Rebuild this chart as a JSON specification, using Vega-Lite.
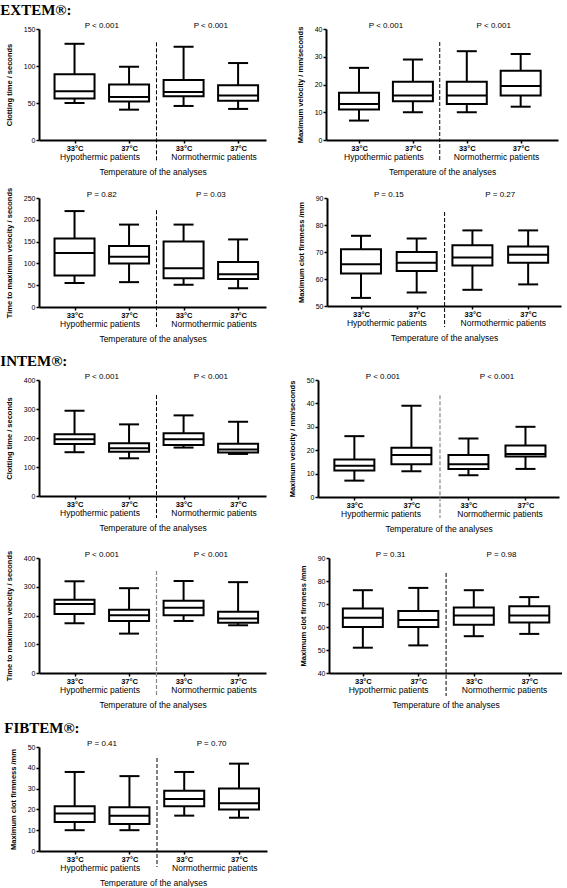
{
"$schema": "https://vega.github.io/schema/vega-lite/v6.json",
"autosize": {"type": "pad"},
"padding": {"left": 0, "top": 3, "right": 0, "bottom": 0},
"background": "white",
"datasets": {
"sep": [{"pos": 2.5}],
"p1": [
{"pos": 1, "temperature": "33°C", "group": "Hypothermic patients", "min": 50, "q1": 56, "median": 66, "q3": 89, "max": 130},
{"pos": 2, "temperature": "37°C", "group": "Hypothermic patients", "min": 41, "q1": 52, "median": 58, "q3": 75, "max": 99},
{"pos": 3, "temperature": "33°C", "group": "Normothermic patients", "min": 46, "q1": 59, "median": 65, "q3": 81, "max": 126},
{"pos": 4, "temperature": "37°C", "group": "Normothermic patients", "min": 42, "q1": 53, "median": 60, "q3": 74, "max": 104}],
"p1p": [{"pos": 1.5, "label": "P < 0.001"}, {"pos": 3.5, "label": "P < 0.001"}],
"p2": [
{"pos": 1, "temperature": "33°C", "group": "Hypothermic patients", "min": 7, "q1": 11, "median": 13, "q3": 17, "max": 26},
{"pos": 2, "temperature": "37°C", "group": "Hypothermic patients", "min": 10, "q1": 14, "median": 16, "q3": 21, "max": 29},
{"pos": 3, "temperature": "33°C", "group": "Normothermic patients", "min": 10, "q1": 13, "median": 16, "q3": 21, "max": 32},
{"pos": 4, "temperature": "37°C", "group": "Normothermic patients", "min": 12, "q1": 16, "median": 19.5, "q3": 25, "max": 31}],
"p2p": [{"pos": 1.5, "label": "P < 0.001"}, {"pos": 3.5, "label": "P < 0.001"}],
"p3": [
{"pos": 1, "temperature": "33°C", "group": "Hypothermic patients", "min": 55, "q1": 72, "median": 124, "q3": 157, "max": 220},
{"pos": 2, "temperature": "37°C", "group": "Hypothermic patients", "min": 57, "q1": 100, "median": 115, "q3": 140, "max": 189},
{"pos": 3, "temperature": "33°C", "group": "Normothermic patients", "min": 51, "q1": 66, "median": 89, "q3": 150, "max": 189},
{"pos": 4, "temperature": "37°C", "group": "Normothermic patients", "min": 43, "q1": 64, "median": 75, "q3": 103, "max": 155}],
"p3p": [{"pos": 1.5, "label": "P = 0.82"}, {"pos": 3.5, "label": "P = 0.03"}],
"p4": [
{"pos": 1, "temperature": "33°C", "group": "Hypothermic patients", "min": 53, "q1": 62, "median": 65.5, "q3": 71, "max": 76},
{"pos": 2, "temperature": "37°C", "group": "Hypothermic patients", "min": 55, "q1": 63, "median": 66, "q3": 70, "max": 75},
{"pos": 3, "temperature": "33°C", "group": "Normothermic patients", "min": 56, "q1": 65, "median": 68, "q3": 72.5, "max": 78},
{"pos": 4, "temperature": "37°C", "group": "Normothermic patients", "min": 58, "q1": 66, "median": 69, "q3": 72, "max": 78}],
"p4p": [{"pos": 1.5, "label": "P = 0.15"}, {"pos": 3.5, "label": "P = 0.27"}],
"p5": [
{"pos": 1, "temperature": "33°C", "group": "Hypothermic patients", "min": 151, "q1": 179, "median": 196, "q3": 213, "max": 294},
{"pos": 2, "temperature": "37°C", "group": "Hypothermic patients", "min": 130, "q1": 153, "median": 165, "q3": 182, "max": 247},
{"pos": 3, "temperature": "33°C", "group": "Normothermic patients", "min": 167, "q1": 176, "median": 196, "q3": 216, "max": 278},
{"pos": 4, "temperature": "37°C", "group": "Normothermic patients", "min": 145, "q1": 150, "median": 160, "q3": 180, "max": 256}],
"p5p": [{"pos": 1.5, "label": "P < 0.001"}, {"pos": 3.5, "label": "P < 0.001"}],
"p6": [
{"pos": 1, "temperature": "33°C", "group": "Hypothermic patients", "min": 7, "q1": 11.3, "median": 13.4, "q3": 16, "max": 26},
{"pos": 2, "temperature": "37°C", "group": "Hypothermic patients", "min": 11, "q1": 14, "median": 18, "q3": 21, "max": 39},
{"pos": 3, "temperature": "33°C", "group": "Normothermic patients", "min": 9.3, "q1": 12, "median": 14, "q3": 18, "max": 25},
{"pos": 4, "temperature": "37°C", "group": "Normothermic patients", "min": 12, "q1": 17.3, "median": 18.4, "q3": 22, "max": 30}],
"p6p": [{"pos": 1.5, "label": "P < 0.001"}, {"pos": 3.5, "label": "P < 0.001"}],
"p7": [
{"pos": 1, "temperature": "33°C", "group": "Hypothermic patients", "min": 173, "q1": 205, "median": 240, "q3": 255, "max": 319},
{"pos": 2, "temperature": "37°C", "group": "Hypothermic patients", "min": 137, "q1": 181, "median": 201, "q3": 220, "max": 295},
{"pos": 3, "temperature": "33°C", "group": "Normothermic patients", "min": 181, "q1": 201, "median": 227, "q3": 251, "max": 320},
{"pos": 4, "temperature": "37°C", "group": "Normothermic patients", "min": 166, "q1": 175, "median": 190, "q3": 213, "max": 316}],
"p7p": [{"pos": 1.5, "label": "P < 0.001"}, {"pos": 3.5, "label": "P < 0.001"}],
"p8": [
{"pos": 1, "temperature": "33°C", "group": "Hypothermic patients", "min": 51, "q1": 60, "median": 64, "q3": 68, "max": 76},
{"pos": 2, "temperature": "37°C", "group": "Hypothermic patients", "min": 52, "q1": 60, "median": 63, "q3": 67, "max": 77},
{"pos": 3, "temperature": "33°C", "group": "Normothermic patients", "min": 56, "q1": 61, "median": 65, "q3": 68.5, "max": 76},
{"pos": 4, "temperature": "37°C", "group": "Normothermic patients", "min": 57, "q1": 62, "median": 65, "q3": 69, "max": 73}],
"p8p": [{"pos": 1.5, "label": "P = 0.31"}, {"pos": 3.5, "label": "P = 0.98"}],
"p9": [
{"pos": 1, "temperature": "33°C", "group": "Hypothermic patients", "min": 10, "q1": 14, "median": 18, "q3": 21.5, "max": 38},
{"pos": 2, "temperature": "37°C", "group": "Hypothermic patients", "min": 10, "q1": 13, "median": 17, "q3": 21, "max": 36},
{"pos": 3, "temperature": "33°C", "group": "Normothermic patients", "min": 17, "q1": 21.5, "median": 25, "q3": 29, "max": 38},
{"pos": 4, "temperature": "37°C", "group": "Normothermic patients", "min": 16, "q1": 20, "median": 23, "q3": 30, "max": 42}],
"p9p": [{"pos": 1.5, "label": "P = 0.41"}, {"pos": 3.5, "label": "P = 0.70"}]
},
"spacing": 11,
"vconcat": [
{"spacing": 11, "vconcat": [
{"title": {"text": "EXTEM®:", "anchor": "start", "frame": "bounds", "dx": -5, "offset": 4}, "spacing": 30, "hconcat": [
{"width": 227, "height": 111, "layer": [
{"encoding": {"x": {"field": "pos", "type": "quantitative", "scale": {"domain": [0.44, 4.42], "nice": false, "zero": false}, "axis": {"values": [1, 2, 3, 4], "labelExpr": "datum.value % 2 == 1 ? '33°C' : '37°C'", "title": null}}},
"layer": [
{"data": {"name": "p1"}, "mark": {"type": "rule", "color": "black", "strokeWidth": 2}, "encoding": {"y": {"field": "min", "type": "quantitative", "scale": {"domain": [0, 150], "nice": false, "zero": false}, "axis": {"title": "Clotting time / seconds", "values": [0, 50, 100, 150]}}, "y2": {"field": "max"}}},
{"data": {"name": "p1"}, "mark": {"type": "bar", "size": 40, "fill": "white", "stroke": "black", "strokeWidth": 2}, "encoding": {"y": {"field": "q1", "type": "quantitative", "scale": {"domain": [0, 150], "nice": false, "zero": false}, "axis": {"title": "Clotting time / seconds", "values": [0, 50, 100, 150]}}, "y2": {"field": "q3"}}},
{"data": {"name": "p1"}, "mark": {"type": "tick", "orient": "horizontal", "size": 40, "thickness": 2, "color": "black", "opacity": 1}, "encoding": {"y": {"field": "median", "type": "quantitative", "scale": {"domain": [0, 150], "nice": false, "zero": false}, "axis": {"title": "Clotting time / seconds", "values": [0, 50, 100, 150]}}}},
{"data": {"name": "p1"}, "mark": {"type": "tick", "orient": "horizontal", "size": 20, "thickness": 2, "color": "black", "opacity": 1}, "encoding": {"y": {"field": "min", "type": "quantitative", "scale": {"domain": [0, 150], "nice": false, "zero": false}, "axis": {"title": "Clotting time / seconds", "values": [0, 50, 100, 150]}}}},
{"data": {"name": "p1"}, "mark": {"type": "tick", "orient": "horizontal", "size": 20, "thickness": 2, "color": "black", "opacity": 1}, "encoding": {"y": {"field": "max", "type": "quantitative", "scale": {"domain": [0, 150], "nice": false, "zero": false}, "axis": {"title": "Clotting time / seconds", "values": [0, 50, 100, 150]}}}},
{"data": {"name": "p1p"}, "mark": {"type": "text", "baseline": "bottom", "dy": 1, "fontSize": 8, "color": "black"}, "encoding": {"y": {"datum": 150, "type": "quantitative", "scale": {"domain": [0, 150], "nice": false, "zero": false}, "axis": {"title": "Clotting time / seconds", "values": [0, 50, 100, 150]}}, "text": {"field": "label"}}}
]},
{"data": {"name": "sep"}, "mark": {"type": "rule", "color": "black", "strokeWidth": 1, "strokeDash": [4, 2]}, "encoding": {"x": {"field": "pos", "type": "quantitative", "scale": {"domain": [0.44, 4.42], "nice": false, "zero": false}, "axis": {"orient": "bottom", "values": [1.5, 3.5], "labelExpr": "datum.value < 2.5 ? 'Hypothermic patients' : 'Normothermic patients'", "domain": false, "ticks": false, "offset": 12, "labelPadding": 0, "labelFontSize": 8.5, "labelFontWeight": "normal", "title": "Temperature of the analyses", "titleFontSize": 8.5, "titleFontWeight": "normal", "titlePadding": 7}}, "y": {"datum": 132, "type": "quantitative", "scale": {"domain": [0, 150], "nice": false, "zero": false}, "axis": {"title": "Clotting time / seconds", "values": [0, 50, 100, 150]}}, "y2": {"datum": -28}}}
], "resolve": {"scale": {"x": "independent"}}},
{"width": 232, "height": 111, "layer": [
{"encoding": {"x": {"field": "pos", "type": "quantitative", "scale": {"domain": [0.48, 4.6], "nice": false, "zero": false}, "axis": {"values": [1, 2, 3, 4], "labelExpr": "datum.value % 2 == 1 ? '33°C' : '37°C'", "title": null}}},
"layer": [
{"data": {"name": "p2"}, "mark": {"type": "rule", "color": "black", "strokeWidth": 2}, "encoding": {"y": {"field": "min", "type": "quantitative", "scale": {"domain": [0, 40], "nice": false, "zero": false}, "axis": {"title": "Maximum velocity / mm/seconds", "values": [0, 10, 20, 30, 40]}}, "y2": {"field": "max"}}},
{"data": {"name": "p2"}, "mark": {"type": "bar", "size": 40, "fill": "white", "stroke": "black", "strokeWidth": 2}, "encoding": {"y": {"field": "q1", "type": "quantitative", "scale": {"domain": [0, 40], "nice": false, "zero": false}, "axis": {"title": "Maximum velocity / mm/seconds", "values": [0, 10, 20, 30, 40]}}, "y2": {"field": "q3"}}},
{"data": {"name": "p2"}, "mark": {"type": "tick", "orient": "horizontal", "size": 40, "thickness": 2, "color": "black", "opacity": 1}, "encoding": {"y": {"field": "median", "type": "quantitative", "scale": {"domain": [0, 40], "nice": false, "zero": false}, "axis": {"title": "Maximum velocity / mm/seconds", "values": [0, 10, 20, 30, 40]}}}},
{"data": {"name": "p2"}, "mark": {"type": "tick", "orient": "horizontal", "size": 20, "thickness": 2, "color": "black", "opacity": 1}, "encoding": {"y": {"field": "min", "type": "quantitative", "scale": {"domain": [0, 40], "nice": false, "zero": false}, "axis": {"title": "Maximum velocity / mm/seconds", "values": [0, 10, 20, 30, 40]}}}},
{"data": {"name": "p2"}, "mark": {"type": "tick", "orient": "horizontal", "size": 20, "thickness": 2, "color": "black", "opacity": 1}, "encoding": {"y": {"field": "max", "type": "quantitative", "scale": {"domain": [0, 40], "nice": false, "zero": false}, "axis": {"title": "Maximum velocity / mm/seconds", "values": [0, 10, 20, 30, 40]}}}},
{"data": {"name": "p2p"}, "mark": {"type": "text", "baseline": "bottom", "dy": 1, "fontSize": 8, "color": "black"}, "encoding": {"y": {"datum": 40, "type": "quantitative", "scale": {"domain": [0, 40], "nice": false, "zero": false}, "axis": {"title": "Maximum velocity / mm/seconds", "values": [0, 10, 20, 30, 40]}}, "text": {"field": "label"}}}
]},
{"data": {"name": "sep"}, "mark": {"type": "rule", "color": "black", "strokeWidth": 1, "strokeDash": [4, 2]}, "encoding": {"x": {"field": "pos", "type": "quantitative", "scale": {"domain": [0.48, 4.6], "nice": false, "zero": false}, "axis": {"orient": "bottom", "values": [1.5, 3.5], "labelExpr": "datum.value < 2.5 ? 'Hypothermic patients' : 'Normothermic patients'", "domain": false, "ticks": false, "offset": 12, "labelPadding": 0, "labelFontSize": 8.5, "labelFontWeight": "normal", "title": "Temperature of the analyses", "titleFontSize": 8.5, "titleFontWeight": "normal", "titlePadding": 7}}, "y": {"datum": 35.3, "type": "quantitative", "scale": {"domain": [0, 40], "nice": false, "zero": false}, "axis": {"title": "Maximum velocity / mm/seconds", "values": [0, 10, 20, 30, 40]}}, "y2": {"datum": -7.6}}}
], "resolve": {"scale": {"x": "independent"}}}
]},
{"spacing": 31, "hconcat": [
{"width": 227, "height": 109, "layer": [
{"encoding": {"x": {"field": "pos", "type": "quantitative", "scale": {"domain": [0.44, 4.42], "nice": false, "zero": false}, "axis": {"values": [1, 2, 3, 4], "labelExpr": "datum.value % 2 == 1 ? '33°C' : '37°C'", "title": null}}},
"layer": [
{"data": {"name": "p3"}, "mark": {"type": "rule", "color": "black", "strokeWidth": 2}, "encoding": {"y": {"field": "min", "type": "quantitative", "scale": {"domain": [0, 250], "nice": false, "zero": false}, "axis": {"title": "Time to maximum velocity / seconds", "values": [0, 50, 100, 150, 200, 250]}}, "y2": {"field": "max"}}},
{"data": {"name": "p3"}, "mark": {"type": "bar", "size": 40, "fill": "white", "stroke": "black", "strokeWidth": 2}, "encoding": {"y": {"field": "q1", "type": "quantitative", "scale": {"domain": [0, 250], "nice": false, "zero": false}, "axis": {"title": "Time to maximum velocity / seconds", "values": [0, 50, 100, 150, 200, 250]}}, "y2": {"field": "q3"}}},
{"data": {"name": "p3"}, "mark": {"type": "tick", "orient": "horizontal", "size": 40, "thickness": 2, "color": "black", "opacity": 1}, "encoding": {"y": {"field": "median", "type": "quantitative", "scale": {"domain": [0, 250], "nice": false, "zero": false}, "axis": {"title": "Time to maximum velocity / seconds", "values": [0, 50, 100, 150, 200, 250]}}}},
{"data": {"name": "p3"}, "mark": {"type": "tick", "orient": "horizontal", "size": 20, "thickness": 2, "color": "black", "opacity": 1}, "encoding": {"y": {"field": "min", "type": "quantitative", "scale": {"domain": [0, 250], "nice": false, "zero": false}, "axis": {"title": "Time to maximum velocity / seconds", "values": [0, 50, 100, 150, 200, 250]}}}},
{"data": {"name": "p3"}, "mark": {"type": "tick", "orient": "horizontal", "size": 20, "thickness": 2, "color": "black", "opacity": 1}, "encoding": {"y": {"field": "max", "type": "quantitative", "scale": {"domain": [0, 250], "nice": false, "zero": false}, "axis": {"title": "Time to maximum velocity / seconds", "values": [0, 50, 100, 150, 200, 250]}}}},
{"data": {"name": "p3p"}, "mark": {"type": "text", "baseline": "bottom", "dy": 1, "fontSize": 8, "color": "black"}, "encoding": {"y": {"datum": 250, "type": "quantitative", "scale": {"domain": [0, 250], "nice": false, "zero": false}, "axis": {"title": "Time to maximum velocity / seconds", "values": [0, 50, 100, 150, 200, 250]}}, "text": {"field": "label"}}}
]},
{"data": {"name": "sep"}, "mark": {"type": "rule", "color": "black", "strokeWidth": 1, "strokeDash": [4, 2]}, "encoding": {"x": {"field": "pos", "type": "quantitative", "scale": {"domain": [0.44, 4.42], "nice": false, "zero": false}, "axis": {"orient": "bottom", "values": [1.5, 3.5], "labelExpr": "datum.value < 2.5 ? 'Hypothermic patients' : 'Normothermic patients'", "domain": false, "ticks": false, "offset": 12, "labelPadding": 0, "labelFontSize": 8.5, "labelFontWeight": "normal", "title": "Temperature of the analyses", "titleFontSize": 8.5, "titleFontWeight": "normal", "titlePadding": 7}}, "y": {"datum": 222, "type": "quantitative", "scale": {"domain": [0, 250], "nice": false, "zero": false}, "axis": {"title": "Time to maximum velocity / seconds", "values": [0, 50, 100, 150, 200, 250]}}, "y2": {"datum": -46}}}
], "resolve": {"scale": {"x": "independent"}}},
{"width": 234, "height": 108, "layer": [
{"encoding": {"x": {"field": "pos", "type": "quantitative", "scale": {"domain": [0.48, 4.5], "nice": false, "zero": false}, "axis": {"values": [1, 2, 3, 4], "labelExpr": "datum.value % 2 == 1 ? '33°C' : '37°C'", "title": null}}},
"layer": [
{"data": {"name": "p4"}, "mark": {"type": "rule", "color": "black", "strokeWidth": 2}, "encoding": {"y": {"field": "min", "type": "quantitative", "scale": {"domain": [50, 90], "nice": false, "zero": false}, "axis": {"title": "Maximum clot firmness /mm", "values": [50, 60, 70, 80, 90]}}, "y2": {"field": "max"}}},
{"data": {"name": "p4"}, "mark": {"type": "bar", "size": 40, "fill": "white", "stroke": "black", "strokeWidth": 2}, "encoding": {"y": {"field": "q1", "type": "quantitative", "scale": {"domain": [50, 90], "nice": false, "zero": false}, "axis": {"title": "Maximum clot firmness /mm", "values": [50, 60, 70, 80, 90]}}, "y2": {"field": "q3"}}},
{"data": {"name": "p4"}, "mark": {"type": "tick", "orient": "horizontal", "size": 40, "thickness": 2, "color": "black", "opacity": 1}, "encoding": {"y": {"field": "median", "type": "quantitative", "scale": {"domain": [50, 90], "nice": false, "zero": false}, "axis": {"title": "Maximum clot firmness /mm", "values": [50, 60, 70, 80, 90]}}}},
{"data": {"name": "p4"}, "mark": {"type": "tick", "orient": "horizontal", "size": 20, "thickness": 2, "color": "black", "opacity": 1}, "encoding": {"y": {"field": "min", "type": "quantitative", "scale": {"domain": [50, 90], "nice": false, "zero": false}, "axis": {"title": "Maximum clot firmness /mm", "values": [50, 60, 70, 80, 90]}}}},
{"data": {"name": "p4"}, "mark": {"type": "tick", "orient": "horizontal", "size": 20, "thickness": 2, "color": "black", "opacity": 1}, "encoding": {"y": {"field": "max", "type": "quantitative", "scale": {"domain": [50, 90], "nice": false, "zero": false}, "axis": {"title": "Maximum clot firmness /mm", "values": [50, 60, 70, 80, 90]}}}},
{"data": {"name": "p4p"}, "mark": {"type": "text", "baseline": "bottom", "dy": 1, "fontSize": 8, "color": "black"}, "encoding": {"y": {"datum": 90, "type": "quantitative", "scale": {"domain": [50, 90], "nice": false, "zero": false}, "axis": {"title": "Maximum clot firmness /mm", "values": [50, 60, 70, 80, 90]}}, "text": {"field": "label"}}}
]},
{"data": {"name": "sep"}, "mark": {"type": "rule", "color": "black", "strokeWidth": 1, "strokeDash": [4, 2]}, "encoding": {"x": {"field": "pos", "type": "quantitative", "scale": {"domain": [0.48, 4.5], "nice": false, "zero": false}, "axis": {"orient": "bottom", "values": [1.5, 3.5], "labelExpr": "datum.value < 2.5 ? 'Hypothermic patients' : 'Normothermic patients'", "domain": false, "ticks": false, "offset": 12, "labelPadding": 0, "labelFontSize": 8.5, "labelFontWeight": "normal", "title": "Temperature of the analyses", "titleFontSize": 8.5, "titleFontWeight": "normal", "titlePadding": 7}}, "y": {"datum": 84.8, "type": "quantitative", "scale": {"domain": [50, 90], "nice": false, "zero": false}, "axis": {"title": "Maximum clot firmness /mm", "values": [50, 60, 70, 80, 90]}}, "y2": {"datum": 42.2}}}
], "resolve": {"scale": {"x": "independent"}}}
]}
]},
{"spacing": 12, "vconcat": [
{"spacing": 17, "vconcat": [
{"title": {"text": "INTEM®:", "anchor": "start", "frame": "bounds", "dx": -5, "offset": 4}, "spacing": 22, "hconcat": [
{"width": 227, "height": 116, "layer": [
{"encoding": {"x": {"field": "pos", "type": "quantitative", "scale": {"domain": [0.44, 4.42], "nice": false, "zero": false}, "axis": {"values": [1, 2, 3, 4], "labelExpr": "datum.value % 2 == 1 ? '33°C' : '37°C'", "title": null}}},
"layer": [
{"data": {"name": "p5"}, "mark": {"type": "rule", "color": "black", "strokeWidth": 2}, "encoding": {"y": {"field": "min", "type": "quantitative", "scale": {"domain": [0, 400], "nice": false, "zero": false}, "axis": {"title": "Clotting time / seconds", "values": [0, 100, 200, 300, 400]}}, "y2": {"field": "max"}}},
{"data": {"name": "p5"}, "mark": {"type": "bar", "size": 40, "fill": "white", "stroke": "black", "strokeWidth": 2}, "encoding": {"y": {"field": "q1", "type": "quantitative", "scale": {"domain": [0, 400], "nice": false, "zero": false}, "axis": {"title": "Clotting time / seconds", "values": [0, 100, 200, 300, 400]}}, "y2": {"field": "q3"}}},
{"data": {"name": "p5"}, "mark": {"type": "tick", "orient": "horizontal", "size": 40, "thickness": 2, "color": "black", "opacity": 1}, "encoding": {"y": {"field": "median", "type": "quantitative", "scale": {"domain": [0, 400], "nice": false, "zero": false}, "axis": {"title": "Clotting time / seconds", "values": [0, 100, 200, 300, 400]}}}},
{"data": {"name": "p5"}, "mark": {"type": "tick", "orient": "horizontal", "size": 20, "thickness": 2, "color": "black", "opacity": 1}, "encoding": {"y": {"field": "min", "type": "quantitative", "scale": {"domain": [0, 400], "nice": false, "zero": false}, "axis": {"title": "Clotting time / seconds", "values": [0, 100, 200, 300, 400]}}}},
{"data": {"name": "p5"}, "mark": {"type": "tick", "orient": "horizontal", "size": 20, "thickness": 2, "color": "black", "opacity": 1}, "encoding": {"y": {"field": "max", "type": "quantitative", "scale": {"domain": [0, 400], "nice": false, "zero": false}, "axis": {"title": "Clotting time / seconds", "values": [0, 100, 200, 300, 400]}}}},
{"data": {"name": "p5p"}, "mark": {"type": "text", "baseline": "bottom", "dy": 1, "fontSize": 8, "color": "black"}, "encoding": {"y": {"datum": 400, "type": "quantitative", "scale": {"domain": [0, 400], "nice": false, "zero": false}, "axis": {"title": "Clotting time / seconds", "values": [0, 100, 200, 300, 400]}}, "text": {"field": "label"}}}
]},
{"data": {"name": "sep"}, "mark": {"type": "rule", "color": "black", "strokeWidth": 1, "strokeDash": [4, 2]}, "encoding": {"x": {"field": "pos", "type": "quantitative", "scale": {"domain": [0.44, 4.42], "nice": false, "zero": false}, "axis": {"orient": "bottom", "values": [1.5, 3.5], "labelExpr": "datum.value < 2.5 ? 'Hypothermic patients' : 'Normothermic patients'", "domain": false, "ticks": false, "offset": 12, "labelPadding": 0, "labelFontSize": 8.5, "labelFontWeight": "normal", "title": "Temperature of the analyses", "titleFontSize": 8.5, "titleFontWeight": "normal", "titlePadding": 7}}, "y": {"datum": 348, "type": "quantitative", "scale": {"domain": [0, 400], "nice": false, "zero": false}, "axis": {"title": "Clotting time / seconds", "values": [0, 100, 200, 300, 400]}}, "y2": {"datum": -76}}}
], "resolve": {"scale": {"x": "independent"}}},
{"width": 241, "height": 117, "layer": [
{"encoding": {"x": {"field": "pos", "type": "quantitative", "scale": {"domain": [0.45, 4.5], "nice": false, "zero": false}, "axis": {"values": [1, 2, 3, 4], "labelExpr": "datum.value % 2 == 1 ? '33°C' : '37°C'", "title": null}}},
"layer": [
{"data": {"name": "p6"}, "mark": {"type": "rule", "color": "black", "strokeWidth": 2}, "encoding": {"y": {"field": "min", "type": "quantitative", "scale": {"domain": [0, 50], "nice": false, "zero": false}, "axis": {"title": "Maximum velocity / mm/seconds", "values": [0, 10, 20, 30, 40, 50]}}, "y2": {"field": "max"}}},
{"data": {"name": "p6"}, "mark": {"type": "bar", "size": 40, "fill": "white", "stroke": "black", "strokeWidth": 2}, "encoding": {"y": {"field": "q1", "type": "quantitative", "scale": {"domain": [0, 50], "nice": false, "zero": false}, "axis": {"title": "Maximum velocity / mm/seconds", "values": [0, 10, 20, 30, 40, 50]}}, "y2": {"field": "q3"}}},
{"data": {"name": "p6"}, "mark": {"type": "tick", "orient": "horizontal", "size": 40, "thickness": 2, "color": "black", "opacity": 1}, "encoding": {"y": {"field": "median", "type": "quantitative", "scale": {"domain": [0, 50], "nice": false, "zero": false}, "axis": {"title": "Maximum velocity / mm/seconds", "values": [0, 10, 20, 30, 40, 50]}}}},
{"data": {"name": "p6"}, "mark": {"type": "tick", "orient": "horizontal", "size": 20, "thickness": 2, "color": "black", "opacity": 1}, "encoding": {"y": {"field": "min", "type": "quantitative", "scale": {"domain": [0, 50], "nice": false, "zero": false}, "axis": {"title": "Maximum velocity / mm/seconds", "values": [0, 10, 20, 30, 40, 50]}}}},
{"data": {"name": "p6"}, "mark": {"type": "tick", "orient": "horizontal", "size": 20, "thickness": 2, "color": "black", "opacity": 1}, "encoding": {"y": {"field": "max", "type": "quantitative", "scale": {"domain": [0, 50], "nice": false, "zero": false}, "axis": {"title": "Maximum velocity / mm/seconds", "values": [0, 10, 20, 30, 40, 50]}}}},
{"data": {"name": "p6p"}, "mark": {"type": "text", "baseline": "bottom", "dy": 1, "fontSize": 8, "color": "black"}, "encoding": {"y": {"datum": 50, "type": "quantitative", "scale": {"domain": [0, 50], "nice": false, "zero": false}, "axis": {"title": "Maximum velocity / mm/seconds", "values": [0, 10, 20, 30, 40, 50]}}, "text": {"field": "label"}}}
]},
{"data": {"name": "sep"}, "mark": {"type": "rule", "color": "#888888", "strokeWidth": 1.2, "strokeDash": [4, 2]}, "encoding": {"x": {"field": "pos", "type": "quantitative", "scale": {"domain": [0.45, 4.5], "nice": false, "zero": false}, "axis": {"orient": "bottom", "values": [1.5, 3.5], "labelExpr": "datum.value < 2.5 ? 'Hypothermic patients' : 'Normothermic patients'", "domain": false, "ticks": false, "offset": 12, "labelPadding": 0, "labelFontSize": 8.5, "labelFontWeight": "normal", "title": "Temperature of the analyses", "titleFontSize": 8.5, "titleFontWeight": "normal", "titlePadding": 7}}, "y": {"datum": 43.5, "type": "quantitative", "scale": {"domain": [0, 50], "nice": false, "zero": false}, "axis": {"title": "Maximum velocity / mm/seconds", "values": [0, 10, 20, 30, 40, 50]}}, "y2": {"datum": -9}}}
], "resolve": {"scale": {"x": "independent"}}}
]},
{"spacing": 33, "hconcat": [
{"width": 227, "height": 115, "layer": [
{"encoding": {"x": {"field": "pos", "type": "quantitative", "scale": {"domain": [0.44, 4.42], "nice": false, "zero": false}, "axis": {"values": [1, 2, 3, 4], "labelExpr": "datum.value % 2 == 1 ? '33°C' : '37°C'", "title": null}}},
"layer": [
{"data": {"name": "p7"}, "mark": {"type": "rule", "color": "black", "strokeWidth": 2}, "encoding": {"y": {"field": "min", "type": "quantitative", "scale": {"domain": [0, 400], "nice": false, "zero": false}, "axis": {"title": "Time to maximum velocity / seconds", "values": [0, 100, 200, 300, 400]}}, "y2": {"field": "max"}}},
{"data": {"name": "p7"}, "mark": {"type": "bar", "size": 40, "fill": "white", "stroke": "black", "strokeWidth": 2}, "encoding": {"y": {"field": "q1", "type": "quantitative", "scale": {"domain": [0, 400], "nice": false, "zero": false}, "axis": {"title": "Time to maximum velocity / seconds", "values": [0, 100, 200, 300, 400]}}, "y2": {"field": "q3"}}},
{"data": {"name": "p7"}, "mark": {"type": "tick", "orient": "horizontal", "size": 40, "thickness": 2, "color": "black", "opacity": 1}, "encoding": {"y": {"field": "median", "type": "quantitative", "scale": {"domain": [0, 400], "nice": false, "zero": false}, "axis": {"title": "Time to maximum velocity / seconds", "values": [0, 100, 200, 300, 400]}}}},
{"data": {"name": "p7"}, "mark": {"type": "tick", "orient": "horizontal", "size": 20, "thickness": 2, "color": "black", "opacity": 1}, "encoding": {"y": {"field": "min", "type": "quantitative", "scale": {"domain": [0, 400], "nice": false, "zero": false}, "axis": {"title": "Time to maximum velocity / seconds", "values": [0, 100, 200, 300, 400]}}}},
{"data": {"name": "p7"}, "mark": {"type": "tick", "orient": "horizontal", "size": 20, "thickness": 2, "color": "black", "opacity": 1}, "encoding": {"y": {"field": "max", "type": "quantitative", "scale": {"domain": [0, 400], "nice": false, "zero": false}, "axis": {"title": "Time to maximum velocity / seconds", "values": [0, 100, 200, 300, 400]}}}},
{"data": {"name": "p7p"}, "mark": {"type": "text", "baseline": "bottom", "dy": 1, "fontSize": 8, "color": "black"}, "encoding": {"y": {"datum": 400, "type": "quantitative", "scale": {"domain": [0, 400], "nice": false, "zero": false}, "axis": {"title": "Time to maximum velocity / seconds", "values": [0, 100, 200, 300, 400]}}, "text": {"field": "label"}}}
]},
{"data": {"name": "sep"}, "mark": {"type": "rule", "color": "#888888", "strokeWidth": 1.2, "strokeDash": [4, 2]}, "encoding": {"x": {"field": "pos", "type": "quantitative", "scale": {"domain": [0.44, 4.42], "nice": false, "zero": false}, "axis": {"orient": "bottom", "values": [1.5, 3.5], "labelExpr": "datum.value < 2.5 ? 'Hypothermic patients' : 'Normothermic patients'", "domain": false, "ticks": false, "offset": 12, "labelPadding": 0, "labelFontSize": 8.5, "labelFontWeight": "normal", "title": "Temperature of the analyses", "titleFontSize": 8.5, "titleFontWeight": "normal", "titlePadding": 7}}, "y": {"datum": 355, "type": "quantitative", "scale": {"domain": [0, 400], "nice": false, "zero": false}, "axis": {"title": "Time to maximum velocity / seconds", "values": [0, 100, 200, 300, 400]}}, "y2": {"datum": -83}}}
], "resolve": {"scale": {"x": "independent"}}},
{"width": 233, "height": 115, "layer": [
{"encoding": {"x": {"field": "pos", "type": "quantitative", "scale": {"domain": [0.48, 4.5], "nice": false, "zero": false}, "axis": {"values": [1, 2, 3, 4], "labelExpr": "datum.value % 2 == 1 ? '33°C' : '37°C'", "title": null}}},
"layer": [
{"data": {"name": "p8"}, "mark": {"type": "rule", "color": "black", "strokeWidth": 2}, "encoding": {"y": {"field": "min", "type": "quantitative", "scale": {"domain": [40, 90], "nice": false, "zero": false}, "axis": {"title": "Maximum clot firmness /mm", "values": [40, 50, 60, 70, 80, 90]}}, "y2": {"field": "max"}}},
{"data": {"name": "p8"}, "mark": {"type": "bar", "size": 40, "fill": "white", "stroke": "black", "strokeWidth": 2}, "encoding": {"y": {"field": "q1", "type": "quantitative", "scale": {"domain": [40, 90], "nice": false, "zero": false}, "axis": {"title": "Maximum clot firmness /mm", "values": [40, 50, 60, 70, 80, 90]}}, "y2": {"field": "q3"}}},
{"data": {"name": "p8"}, "mark": {"type": "tick", "orient": "horizontal", "size": 40, "thickness": 2, "color": "black", "opacity": 1}, "encoding": {"y": {"field": "median", "type": "quantitative", "scale": {"domain": [40, 90], "nice": false, "zero": false}, "axis": {"title": "Maximum clot firmness /mm", "values": [40, 50, 60, 70, 80, 90]}}}},
{"data": {"name": "p8"}, "mark": {"type": "tick", "orient": "horizontal", "size": 20, "thickness": 2, "color": "black", "opacity": 1}, "encoding": {"y": {"field": "min", "type": "quantitative", "scale": {"domain": [40, 90], "nice": false, "zero": false}, "axis": {"title": "Maximum clot firmness /mm", "values": [40, 50, 60, 70, 80, 90]}}}},
{"data": {"name": "p8"}, "mark": {"type": "tick", "orient": "horizontal", "size": 20, "thickness": 2, "color": "black", "opacity": 1}, "encoding": {"y": {"field": "max", "type": "quantitative", "scale": {"domain": [40, 90], "nice": false, "zero": false}, "axis": {"title": "Maximum clot firmness /mm", "values": [40, 50, 60, 70, 80, 90]}}}},
{"data": {"name": "p8p"}, "mark": {"type": "text", "baseline": "bottom", "dy": 1, "fontSize": 8, "color": "black"}, "encoding": {"y": {"datum": 90, "type": "quantitative", "scale": {"domain": [40, 90], "nice": false, "zero": false}, "axis": {"title": "Maximum clot firmness /mm", "values": [40, 50, 60, 70, 80, 90]}}, "text": {"field": "label"}}}
]},
{"data": {"name": "sep"}, "mark": {"type": "rule", "color": "black", "strokeWidth": 1, "strokeDash": [4, 2]}, "encoding": {"x": {"field": "pos", "type": "quantitative", "scale": {"domain": [0.48, 4.5], "nice": false, "zero": false}, "axis": {"orient": "bottom", "values": [1.5, 3.5], "labelExpr": "datum.value < 2.5 ? 'Hypothermic patients' : 'Normothermic patients'", "domain": false, "ticks": false, "offset": 12, "labelPadding": 0, "labelFontSize": 8.5, "labelFontWeight": "normal", "title": "Temperature of the analyses", "titleFontSize": 8.5, "titleFontWeight": "normal", "titlePadding": 7}}, "y": {"datum": 83.5, "type": "quantitative", "scale": {"domain": [40, 90], "nice": false, "zero": false}, "axis": {"title": "Maximum clot firmness /mm", "values": [40, 50, 60, 70, 80, 90]}}, "y2": {"datum": 30}}}
], "resolve": {"scale": {"x": "independent"}}}
]}
]},
{"title": {"text": "FIBTEM®:", "anchor": "start", "frame": "bounds", "dx": -5, "offset": 4}, "width": 228, "height": 104, "layer": [
{"encoding": {"x": {"field": "pos", "type": "quantitative", "scale": {"domain": [0.44, 4.42], "nice": false, "zero": false}, "axis": {"values": [1, 2, 3, 4], "labelExpr": "datum.value % 2 == 1 ? '33°C' : '37°C'", "title": null}}},
"layer": [
{"data": {"name": "p9"}, "mark": {"type": "rule", "color": "black", "strokeWidth": 2}, "encoding": {"y": {"field": "min", "type": "quantitative", "scale": {"domain": [0, 50], "nice": false, "zero": false}, "axis": {"title": "Maximum clot firmness /mm", "values": [0, 10, 20, 30, 40, 50]}}, "y2": {"field": "max"}}},
{"data": {"name": "p9"}, "mark": {"type": "bar", "size": 40, "fill": "white", "stroke": "black", "strokeWidth": 2}, "encoding": {"y": {"field": "q1", "type": "quantitative", "scale": {"domain": [0, 50], "nice": false, "zero": false}, "axis": {"title": "Maximum clot firmness /mm", "values": [0, 10, 20, 30, 40, 50]}}, "y2": {"field": "q3"}}},
{"data": {"name": "p9"}, "mark": {"type": "tick", "orient": "horizontal", "size": 40, "thickness": 2, "color": "black", "opacity": 1}, "encoding": {"y": {"field": "median", "type": "quantitative", "scale": {"domain": [0, 50], "nice": false, "zero": false}, "axis": {"title": "Maximum clot firmness /mm", "values": [0, 10, 20, 30, 40, 50]}}}},
{"data": {"name": "p9"}, "mark": {"type": "tick", "orient": "horizontal", "size": 20, "thickness": 2, "color": "black", "opacity": 1}, "encoding": {"y": {"field": "min", "type": "quantitative", "scale": {"domain": [0, 50], "nice": false, "zero": false}, "axis": {"title": "Maximum clot firmness /mm", "values": [0, 10, 20, 30, 40, 50]}}}},
{"data": {"name": "p9"}, "mark": {"type": "tick", "orient": "horizontal", "size": 20, "thickness": 2, "color": "black", "opacity": 1}, "encoding": {"y": {"field": "max", "type": "quantitative", "scale": {"domain": [0, 50], "nice": false, "zero": false}, "axis": {"title": "Maximum clot firmness /mm", "values": [0, 10, 20, 30, 40, 50]}}}},
{"data": {"name": "p9p"}, "mark": {"type": "text", "baseline": "bottom", "dy": 1, "fontSize": 8, "color": "black"}, "encoding": {"y": {"datum": 50, "type": "quantitative", "scale": {"domain": [0, 50], "nice": false, "zero": false}, "axis": {"title": "Maximum clot firmness /mm", "values": [0, 10, 20, 30, 40, 50]}}, "text": {"field": "label"}}}
]},
{"data": {"name": "sep"}, "mark": {"type": "rule", "color": "black", "strokeWidth": 1, "strokeDash": [4, 2]}, "encoding": {"x": {"field": "pos", "type": "quantitative", "scale": {"domain": [0.44, 4.42], "nice": false, "zero": false}, "axis": {"orient": "bottom", "values": [1.5, 3.5], "labelExpr": "datum.value < 2.5 ? 'Hypothermic patients' : 'Normothermic patients'", "domain": false, "ticks": false, "offset": 12, "labelPadding": 0, "labelFontSize": 8.5, "labelFontWeight": "normal", "title": "Temperature of the analyses", "titleFontSize": 8.5, "titleFontWeight": "normal", "titlePadding": 7}}, "y": {"datum": 44.7, "type": "quantitative", "scale": {"domain": [0, 50], "nice": false, "zero": false}, "axis": {"title": "Maximum clot firmness /mm", "values": [0, 10, 20, 30, 40, 50]}}, "y2": {"datum": -7.7}}}
], "resolve": {"scale": {"x": "independent"}}}
]}
],
"config": {
"font": "Liberation Sans",
"view": {"stroke": null},
"axis": {"grid": false, "domainColor": "black", "domainWidth": 2, "tickColor": "black", "tickWidth": 1.5, "tickSize": 3, "labelColor": "black", "labelFontSize": 7, "labelPadding": 1, "labelFont": "Liberation Sans", "titleFont": "Liberation Sans", "titleColor": "black", "titleFontSize": 7.5, "titleFontWeight": "bold", "labelFlush": false},
"axisY": {"titlePadding": 10},
"axisX": {"labelFontWeight": "bold", "labelFontSize": 7.5},
"title": {"font": "Liberation Serif", "fontSize": 15, "fontWeight": "bold", "color": "black"}
}
}
